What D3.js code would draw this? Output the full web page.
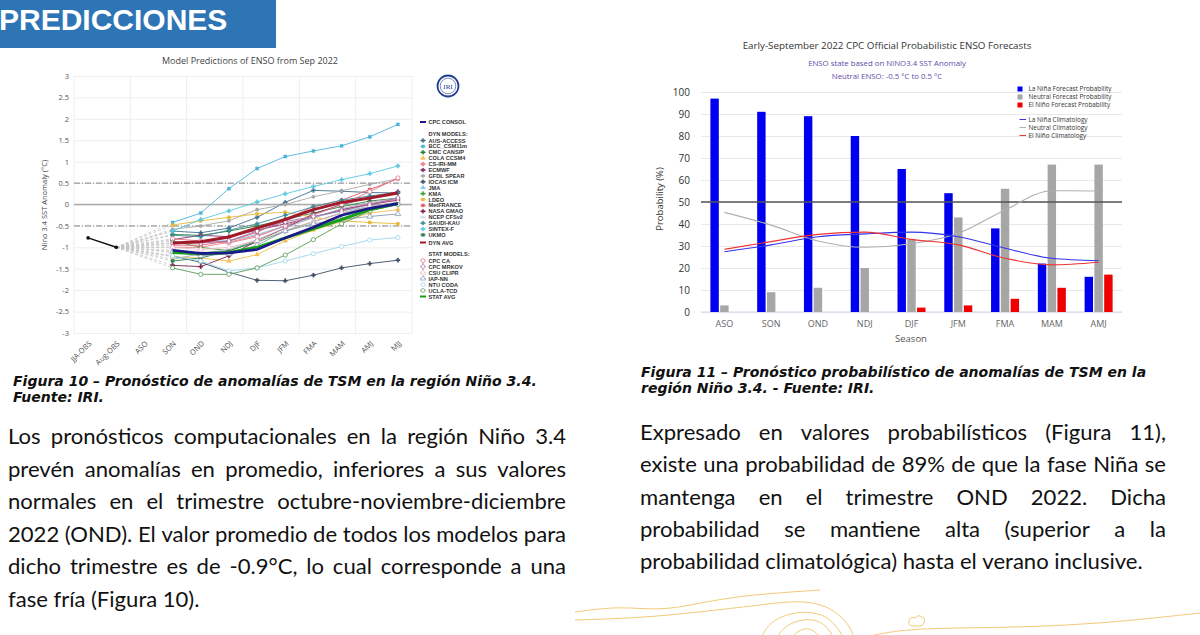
<!DOCTYPE html>
<html><head><meta charset="utf-8">
<script src="https://cdn.jsdelivr.net/npm/d3@7"></script>
<style>body{margin:0;background:#fff;} svg{display:block;}</style>
</head><body>
<svg id="c" width="1200" height="635"></svg>
<script>
// ---------------- DATA ----------------
const seasonsL = ["JJA-OBS","Aug-OBS","ASO","SON","OND","NDJ","DJF","JFM","FMA","MAM","AMJ","MJJ"];
const fcstSeasons = ["SON","OND","NDJ","DJF","JFM","FMA","MAM","AMJ","MJJ"];
const obsSeasons = ["JJA-OBS","Aug-OBS"];
const obsValues = [-0.78, -1.0];
const yTicksLeft = [-3,-2.5,-2,-1.5,-1,-0.5,0,0.5,1,1.5,2,2.5,3];

const ausAccess = [-0.62,-0.66,-0.55,-0.3,0.05,0.33,0.31,0.28,0.27];
const bccCsm = [-0.42,-0.2,0.37,0.84,1.12,1.25,1.37,1.58,1.87];
const cmcCansip = [-0.7,-0.72,-0.62,-0.5,-0.35,-0.2,-0.05,0.08,0.15];
const colaCcsm4 = [-1.22,-1.25,-1.32,-1.17,-0.85,-0.6,-0.4,-0.2,-0.12];
const csIriMm = [-1.0,-1.0,-0.88,-0.72,-0.5,-0.3,-0.12,0.02,0.12];
const ecmwf = [-0.82,-0.72,-0.75,-0.6,-0.45,-0.3,-0.12,0.0,0.1];
const gfdlSpear = [-0.58,-0.5,-0.38,-0.12,0.0,0.18,0.32,0.47,0.6];
const iocasIcm = [-1.2,-1.35,-1.58,-1.77,-1.78,-1.65,-1.48,-1.38,-1.3];
const jma = [-0.9,-0.85,-0.85,-0.7,-0.5,-0.3,-0.15,-0.05,0.05];
const kma = [-0.85,-1.0,-1.08,-0.88,-0.62,-0.4,-0.2,-0.05,0.05];
const ldeo = [-0.48,-0.38,-0.3,-0.22,-0.18,-0.3,-0.38,-0.42,-0.45];
const metFrance = [-0.95,-0.95,-0.85,-0.65,-0.35,-0.05,0.1,0.35,0.6];
const nasaGmao = [-1.42,-1.45,-1.2,-0.85,-0.55,-0.22,0.0,0.15,0.3];
const ncepCfsv2 = [-1.28,-1.15,-1.05,-0.82,-0.55,-0.3,-0.1,0.05,0.15];
const saudiKau = [-0.72,-0.75,-0.6,-0.45,-0.25,-0.05,0.1,0.2,0.28];
const sintexF = [-0.62,-0.35,-0.15,0.06,0.25,0.42,0.58,0.72,0.9];
const ukmo = [-1.32,-1.25,-1.08,-0.85,null,null,null,null,null];
const cpcCa = [-0.8,-0.85,-0.9,-0.75,-0.5,-0.25,0.0,0.3,0.62];
const cpcMrkov = [-0.9,-0.9,-0.85,-0.62,-0.4,-0.28,-0.15,0.0,0.15];
const csuClipr = [-1.0,-1.05,-1.0,-0.85,-0.6,-0.4,-0.2,-0.05,0.05];
const iapNn = [-1.1,-1.2,-1.15,-0.95,-0.62,-0.45,-0.35,-0.28,-0.22];
const ntuCoda = [-1.2,-1.32,-1.55,-1.48,-1.32,-1.15,-0.98,-0.83,-0.77];
const uclaTcd = [-1.48,-1.63,-1.63,-1.48,-1.18,-0.82,-0.45,-0.15,0.0];
const dynAvg = [-0.9,-0.87,-0.76,-0.55,-0.35,-0.12,0.05,0.15,0.27];
const statAvg = [-1.12,-1.15,-1.12,-1.0,-0.78,-0.57,-0.35,-0.12,0.02];
const cpcConsol = [-1.07,-1.14,-1.13,-1.05,-0.78,-0.53,-0.25,-0.09,0.02];

const seasonsR = ["ASO","SON","OND","NDJ","DJF","JFM","FMA","MAM","AMJ"];
const yTicksRight = [0,10,20,30,40,50,60,70,80,90,100];
const ninaProb    = [97,91,89,80,65,54,38,22,16];
const neutralProb = [3,9,11,20,33,43,56,67,67];
const ninoProb    = [0,0,0,0,2,3,6,11,17];
const ninaClim    = [27.4,30.5,34.2,35.5,36.3,34.2,29,24.4,23.3];
const neutralClim = [45.3,39.5,32.3,29.4,31,35.8,46.4,55.1,55];
const ninoClim    = [28.5,32,35.3,36.3,33,30.5,24.4,21.4,22.6];

const leftParagraph = [
  "Los pronósticos computacionales en la región Niño 3.4",
  "prevén anomalías en promedio, inferiores a sus valores",
  "normales en el trimestre octubre-noviembre-diciembre",
  "2022 (OND). El valor promedio de todos los modelos para",
  "dicho trimestre es de -0.9°C, lo cual corresponde a una",
  "fase fría (Figura 10)."
];
const rightParagraph = [
  "Expresado en valores probabilísticos (Figura 11),",
  "existe una probabilidad de 89% de que la fase Niña se",
  "mantenga en el trimestre OND 2022. Dicha",
  "probabilidad se mantiene alta (superior a la",
  "probabilidad climatológica) hasta el verano inclusive."
];

// ---------------- STYLES ----------------
const models = [
  {name:"AUS-ACCESS", v:ausAccess, c:"#3f6f90", s:d3.symbolCross, open:false},
  {name:"BCC_CSM11m", v:bccCsm, c:"#4fb3d9", s:d3.symbolSquare, open:false},
  {name:"CMC CANSIP", v:cmcCansip, c:"#2e7d32", s:d3.symbolCross, open:false},
  {name:"COLA CCSM4", v:colaCcsm4, c:"#f2c14e", s:d3.symbolTriangle, open:false},
  {name:"CS-IRI-MM", v:csIriMm, c:"#f07a8a", s:d3.symbolCross, open:false},
  {name:"ECMWF", v:ecmwf, c:"#8e2c6a", s:d3.symbolCross, open:false},
  {name:"GFDL SPEAR", v:gfdlSpear, c:"#a8a8a8", s:d3.symbolCircle, open:false},
  {name:"IOCAS ICM", v:iocasIcm, c:"#3c4f66", s:d3.symbolCross, open:false},
  {name:"JMA", v:jma, c:"#86cbe6", s:d3.symbolTriangle, open:false},
  {name:"KMA", v:kma, c:"#3aa03a", s:d3.symbolCross, open:false},
  {name:"LDEO", v:ldeo, c:"#e8b93a", s:d3.symbolSquare, open:false},
  {name:"MetFRANCE", v:metFrance, c:"#e05a6e", s:d3.symbolSquare, open:false},
  {name:"NASA GMAO", v:nasaGmao, c:"#7a2455", s:d3.symbolCross, open:false},
  {name:"NCEP CFSv2", v:ncepCfsv2, c:"#9fb0c8", s:d3.symbolTimes||d3.symbolCross, open:false},
  {name:"SAUDI-KAU", v:saudiKau, c:"#3a8fa0", s:d3.symbolCross, open:false},
  {name:"SINTEX-F", v:sintexF, c:"#5cc8e0", s:d3.symbolCross, open:false},
  {name:"UKMO", v:ukmo, c:"#2a7d4f", s:d3.symbolSquare, open:false},
  {name:"CPC CA", v:cpcCa, c:"#e07a8a", s:d3.symbolCircle, open:true},
  {name:"CPC MRKOV", v:cpcMrkov, c:"#a06aa0", s:d3.symbolDiamond, open:true},
  {name:"CSU CLIPR", v:csuClipr, c:"#f0b8c8", s:d3.symbolTriangle, open:true},
  {name:"IAP-NN", v:iapNn, c:"#8a9ab8", s:d3.symbolTriangle, open:true},
  {name:"NTU CODA", v:ntuCoda, c:"#9ed6ea", s:d3.symbolCircle, open:true},
  {name:"UCLA-TCD", v:uclaTcd, c:"#5a9a5a", s:d3.symbolCircle, open:true}
];
const avgs = [
  {name:"STAT AVG", v:statAvg, c:"#18a018", w:3},
  {name:"CPC CONSOL", v:cpcConsol, c:"#1a1a8c", w:2.6},
  {name:"DYN AVG", v:dynAvg, c:"#a11a2a", w:3}
];

const svg = d3.select("#c");
svg.append("rect").attr("width",1200).attr("height",635).attr("fill","#fff");

// ---------------- BANNER ----------------
svg.append("rect").attr("x",0).attr("y",0).attr("width",276).attr("height",48).attr("fill","#2e75b6");
svg.append("text").attr("x",-1).attr("y",30).text("PREDICCIONES")
  .attr("fill","#fff").style("font-family","Liberation Sans, Arial, sans-serif")
  .style("font-weight","bold").style("font-size","30px");

// ---------------- LEFT CHART ----------------
const gL = svg.append("g");
const xL = d3.scaleBand().domain(seasonsL).range([74,412]);
const cxL = s => xL(s) + xL.bandwidth()/2;
const yL = d3.scaleLinear().domain([-3,3]).range([333,76]);

gL.append("text").attr("x",250).attr("y",64).attr("text-anchor","middle")
  .style("font-family","Open Sans, sans-serif").style("font-size","9px").attr("fill","#444")
  .text("Model Predictions of ENSO from Sep 2022");

// vertical grid
const vg = seasonsL.filter((d,i)=>i%2===0).map(s=>xL(s)).concat([412]);
gL.selectAll(".vg").data(vg).enter().append("line")
  .attr("x1",d=>d).attr("x2",d=>d).attr("y1",76).attr("y2",333).attr("stroke","#eeeeee");

const yAxL = gL.append("g").attr("transform","translate(74,0)")
  .call(d3.axisLeft(yL).tickValues(yTicksLeft).tickSize(-338).tickPadding(5).tickFormat(d=>String(d)));
yAxL.select(".domain").remove();
yAxL.selectAll("line").attr("stroke","#eeeeee");
yAxL.selectAll("text").attr("fill","#555").style("font-family","Open Sans, sans-serif").style("font-size","7.5px");

// zero and +-0.5 lines
gL.append("line").attr("x1",74).attr("x2",412).attr("y1",yL(0)).attr("y2",yL(0)).attr("stroke","#aaa").attr("stroke-width",1.3);
[0.5,-0.5].forEach(v=>{
  gL.append("line").attr("x1",74).attr("x2",412).attr("y1",yL(v)).attr("y2",yL(v))
    .attr("stroke","#666").attr("stroke-width",0.8).attr("stroke-dasharray","6,2,1,2");
});

const xAxL = gL.append("g").attr("transform","translate(0,333)")
  .call(d3.axisBottom(xL).tickSize(0).tickPadding(0));
xAxL.select(".domain").remove();
xAxL.selectAll("text").attr("fill","#555").style("font-family","Open Sans, sans-serif").style("font-size","7.5px")
  .attr("text-anchor","end").attr("dy",0).attr("y",0)
  .attr("transform","translate(4,11) rotate(-45)");

gL.append("text").attr("transform","translate(47,205) rotate(-90)").attr("text-anchor","middle")
  .style("font-family","Open Sans, sans-serif").style("font-size","7.5px").attr("fill","#444")
  .text("Nino 3.4 SST Anomaly (°C)");

// fan of dashed lines
const augX = cxL("Aug-OBS"), augY = yL(obsValues[1]);
const allSeries = models.concat(avgs);
gL.selectAll(".fan").data(allSeries).enter().append("line")
  .attr("x1",augX).attr("y1",augY).attr("x2",cxL("SON")).attr("y2",d=>yL(d.v[0]))
  .attr("stroke","#c4c4c4").attr("stroke-width",0.8).attr("stroke-dasharray","3,2");

// observation line
const obsLine = d3.line().x((d,i)=>cxL(obsSeasons[i])).y(d=>yL(d));
gL.append("path").attr("d",obsLine(obsValues)).attr("fill","none").attr("stroke","#111").attr("stroke-width",1.5);
gL.selectAll(".obs").data(obsValues).enter().append("circle")
  .attr("cx",(d,i)=>cxL(obsSeasons[i])).attr("cy",d=>yL(d)).attr("r",1.8).attr("fill","#111");

const mLine = d3.line().defined(d=>d!==null).x((d,i)=>cxL(fcstSeasons[i])).y(d=>yL(d));
models.forEach(m=>{
  gL.append("path").attr("d",mLine(m.v)).attr("fill","none").attr("stroke",m.c).attr("stroke-width",0.9);
  const pts = m.v.map((v,i)=>({v,i})).filter(p=>p.v!==null);
  gL.selectAll(null).data(pts).enter().append("path")
    .attr("d",d3.symbol().type(m.s).size(m.open?14:10))
    .attr("transform",p=>`translate(${cxL(fcstSeasons[p.i])},${yL(p.v)})`)
    .attr("fill",m.open?"#fff":m.c).attr("stroke",m.c).attr("stroke-width",m.open?0.8:0.3);
});
avgs.forEach(m=>{
  gL.append("path").attr("d",mLine(m.v)).attr("fill","none").attr("stroke",m.c).attr("stroke-width",m.w);
});

// IRI logo
gL.append("circle").attr("cx",448).attr("cy",86).attr("r",10.5).attr("fill","#fff").attr("stroke","#23418f").attr("stroke-width",1.8);
gL.append("circle").attr("cx",448).attr("cy",86).attr("r",7.8).attr("fill","none").attr("stroke","#23418f").attr("stroke-width",0.6);
gL.append("text").attr("x",448).attr("y",88.5).attr("text-anchor","middle").style("font-family","Liberation Serif, serif")
  .style("font-size","7px").attr("fill","#23418f").text("IRI");

// left legend
const legFont = s => s.style("font-family","Liberation Sans, Arial, sans-serif").style("font-size","5.6px").style("font-weight","bold").attr("fill","#333");
const legL = gL.append("g");
function legLineItem(name, color, y, w) {
  legL.append("line").attr("x1",420).attr("x2",426).attr("y1",y).attr("y2",y).attr("stroke",color).attr("stroke-width",w);
  legL.append("text").attr("x",428.5).attr("y",y+2).text(name).call(legFont);
}
function legSymItem(m, y) {
  legL.append("line").attr("x1",420).attr("x2",426).attr("y1",y).attr("y2",y).attr("stroke",m.c).attr("stroke-width",0.6);
  legL.append("path").attr("d",d3.symbol().type(m.s).size(m.open?12:9)).attr("transform",`translate(423,${y})`)
    .attr("fill",m.open?"#fff":m.c).attr("stroke",m.c).attr("stroke-width",m.open?0.7:0.3);
  legL.append("text").attr("x",428.5).attr("y",y+2).text(m.name).call(legFont);
}
legLineItem("CPC CONSOL", "#1a1a8c", 122, 2);
legL.append("text").attr("x",428.5).attr("y",136).text("DYN MODELS:").call(legFont);
models.slice(0,17).forEach((m,i)=>legSymItem(m, 140.5 + i*5.9));
legLineItem("DYN AVG", "#a11a2a", 242.5, 2);
legL.append("text").attr("x",428.5).attr("y",256).text("STAT MODELS:").call(legFont);
models.slice(17).forEach((m,i)=>legSymItem(m, 260.5 + i*6));
legLineItem("STAT AVG", "#18a018", 296.5, 2);

// ---------------- RIGHT CHART ----------------
const gR = svg.append("g");
const xR = d3.scaleBand().domain(seasonsR).range([701,1122]);
const cxR = s => xR(s) + xR.bandwidth()/2;
const yR = d3.scaleLinear().domain([0,100]).range([312,92]);
const x1 = d3.scaleBand().domain(["nina","neutral","nino"]).range([-14,14]).paddingInner(0.14);

gR.append("text").attr("x",887).attr("y",49).attr("text-anchor","middle")
  .style("font-family","Open Sans, sans-serif").style("font-size","9.8px").attr("fill","#333")
  .text("Early-September 2022 CPC Official Probabilistic ENSO Forecasts");
gR.append("text").attr("x",887).attr("y",66).attr("text-anchor","middle")
  .style("font-family","Open Sans, sans-serif").style("font-size","7.8px").attr("fill","#5b4ea8")
  .text("ENSO state based on NINO3.4 SST Anomaly");
gR.append("text").attr("x",887).attr("y",78.5).attr("text-anchor","middle")
  .style("font-family","Open Sans, sans-serif").style("font-size","7.8px").attr("fill","#5b4ea8")
  .text("Neutral ENSO: -0.5 °C to 0.5 °C");

const yAxR = gR.append("g").attr("transform","translate(701,0)")
  .call(d3.axisLeft(yR).tickValues(yTicksRight).tickSize(-421).tickPadding(11));
yAxR.select(".domain").remove();
yAxR.selectAll("line").attr("stroke","#e8e8e8");
yAxR.selectAll("text").attr("fill","#333").style("font-family","Open Sans, sans-serif").style("font-size","10px");

gR.append("line").attr("x1",701).attr("x2",1122).attr("y1",yR(0)).attr("y2",yR(0)).attr("stroke","#ccd6eb");

const xAxR = gR.append("g").attr("transform","translate(0,312)")
  .call(d3.axisBottom(xR).tickSize(0).tickPadding(9));
xAxR.select(".domain").remove();
xAxR.selectAll("text").attr("fill","#666").style("font-family","Open Sans, sans-serif").style("font-size","9px");

gR.append("text").attr("x",911).attr("y",341.5).attr("text-anchor","middle")
  .style("font-family","Open Sans, sans-serif").style("font-size","9.5px").attr("fill","#555").text("Season");
gR.append("text").attr("transform","translate(663,199) rotate(-90)").attr("text-anchor","middle")
  .style("font-family","Open Sans, sans-serif").style("font-size","9.5px").attr("fill","#333").text("Probability (%)");

const barSets = [
  {key:"nina", vals:ninaProb, c:"#0000ee"},
  {key:"neutral", vals:neutralProb, c:"#a6a6a6"},
  {key:"nino", vals:ninoProb, c:"#ee0000"}
];
barSets.forEach(b=>{
  gR.selectAll(null).data(b.vals).enter().append("rect")
    .attr("x",(d,i)=>cxR(seasonsR[i]) + x1(b.key))
    .attr("width",x1.bandwidth())
    .attr("y",d=>yR(d)).attr("height",d=>yR(0)-yR(d))
    .attr("fill",b.c);
});

// 50% line
gR.append("line").attr("x1",701).attr("x2",1122).attr("y1",yR(50)).attr("y2",yR(50)).attr("stroke","#555").attr("stroke-width",1.3);

const climLine = d3.line().x((d,i)=>cxR(seasonsR[i])).y(d=>yR(d)).curve(d3.curveMonotoneX);
[{v:neutralClim,c:"#b0b0b0"},{v:ninaClim,c:"#3333ee"},{v:ninoClim,c:"#ee3333"}].forEach(l=>{
  gR.append("path").attr("d",climLine(l.v)).attr("fill","none").attr("stroke",l.c).attr("stroke-width",1.1);
});

// right legend
const legR = gR.append("g");
const legRFont = s => s.style("font-family","Open Sans, sans-serif").style("font-size","6.4px").attr("fill","#333");
[["La Niña Forecast Probability","#0000ee"],["Neutral Forecast Probability","#a6a6a6"],["El Niño Forecast Probability","#ee0000"]]
.forEach((d,i)=>{
  legR.append("rect").attr("x",1017.5).attr("y",86.5+i*8).attr("width",5).attr("height",5).attr("fill",d[1]);
  legR.append("text").attr("x",1028.5).attr("y",91.2+i*8).text(d[0]).call(legRFont);
});
[["La Niña Climatology","#3333ee"],["Neutral Climatology","#b0b0b0"],["El Niño Climatology","#ee3333"]]
.forEach((d,i)=>{
  legR.append("line").attr("x1",1019.5).attr("x2",1026).attr("y1",119.5+i*8).attr("y2",119.5+i*8).attr("stroke",d[1]).attr("stroke-width",1);
  legR.append("text").attr("x",1028.5).attr("y",121.8+i*8).text(d[0]).call(legRFont);
});

// ---------------- CAPTIONS ----------------
const capFam = "DejaVu Sans, Verdana, sans-serif";
const probe = svg.append("text").style("font-family",capFam).style("font-weight","bold").style("font-style","italic")
  .style("font-size","20px").text("Figura 10 – Pronóstico de anomalías de TSM en la región Niño 3.4.");
const capSize = 20*524/probe.node().getComputedTextLength();
probe.remove();
function cap(x,y,t){
  svg.append("text").attr("x",x).attr("y",y).text(t).style("font-family",capFam).style("font-weight","bold")
    .style("font-style","italic").style("font-size",capSize+"px").attr("fill","#111");
}
cap(13,386,"Figura 10 – Pronóstico de anomalías de TSM en la región Niño 3.4.");
cap(13,402,"Fuente: IRI.");
cap(641,377,"Figura 11 – Pronóstico probabilístico de anomalías de TSM en la");
cap(641,393,"región Niño 3.4. - Fuente: IRI.");

// ---------------- BODY TEXT ----------------
const bodyFam = "Lato, Open Sans, sans-serif";
const probe2 = svg.append("text").style("font-family",bodyFam).style("font-size","20px")
  .text("probabilidad climatológica) hasta el verano inclusive.");
const bodySize = 20*503/probe2.node().getComputedTextLength();
probe2.remove();
function para(lines, x0, x1p, y0, lh){
  lines.forEach((ln,i)=>{
    const words = ln.split(" ");
    const y = y0 + i*lh;
    const nodes = words.map(w=>svg.append("text").attr("y",y).text(w)
      .style("font-family",bodyFam).style("font-size",bodySize+"px").attr("fill","#111"));
    const widths = nodes.map(n=>n.node().getComputedTextLength());
    const total = d3.sum(widths);
    const last = i===lines.length-1;
    const gap = last ? bodySize*0.25 : (x1p-x0-total)/(words.length-1);
    let x = x0;
    nodes.forEach((n,j)=>{ n.attr("x",x); x += widths[j]+gap; });
  });
}
para(leftParagraph, 8, 566, 444, 32.5);
para(rightParagraph, 640, 1166, 440, 32.3);

// ---------------- DECORATION ----------------
const deco = svg.append("g").attr("fill","none").attr("stroke","#f1c36a").attr("stroke-width",0.9);
const dl = d3.line().curve(d3.curveBasis);
deco.append("path").attr("d",dl([[575,612],[620,606],[660,611],[700,603],[740,596],[790,592],[820,590]]));
deco.append("path").attr("d",dl([[575,620],[640,618],[700,612],[760,605],[800,600],[830,606],[850,625],[855,640]]));
deco.append("path").attr("d",dl([[760,640],[770,620],[800,610],[830,615],[845,640]]));
deco.append("path").attr("d",dl([[775,640],[785,625],[805,618],[825,622],[835,640]]));
deco.append("path").attr("d",dl([[790,640],[798,630],[812,627],[822,640]]));
deco.append("path").attr("d",dl([[855,640],[900,628],[1000,628],[1100,624],[1200,613]]));
deco.append("path").attr("d","M912,626 q-4,-1 -3,-5 q1,-5 6,-3 q3,-4 7,-1 q4,1 2,6 q-1,3 -5,3 z");
</script></body></html>
